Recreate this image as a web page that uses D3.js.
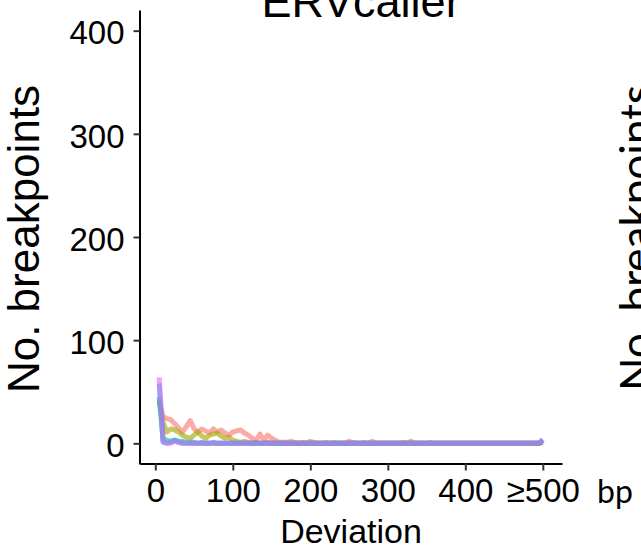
<!DOCTYPE html>
<html>
<head>
<meta charset="utf-8">
<script src="https://cdn.jsdelivr.net/npm/d3@7"></script>
<style>
  body { margin: 0; background: #fff; }
  svg { display: block; font-family: "Liberation Sans", Arial, sans-serif; }
</style>
</head>
<body>
<div id="chart"></div>
<script>
// deviation bins (bp), last bin is ">=500"
const deviation = [
  5, 10, 15, 20, 25, 30, 35, 40, 45, 50,
  55, 60, 65, 70, 75, 80, 85, 90, 95, 100,
  105, 110, 115, 120, 125, 130, 135, 140, 145, 150,
  155, 160, 165, 170, 175, 180, 185, 190, 195, 200,
  205, 210, 215, 220, 225, 230, 235, 240, 245, 250,
  255, 260, 265, 270, 275, 280, 285, 290, 295, 300,
  305, 310, 315, 320, 325, 330, 335, 340, 345, 350,
  355, 360, 365, 370, 375, 380, 385, 390, 395, 400,
  405, 410, 415, 420, 425, 430, 435, 440, 445, 450,
  455, 460, 465, 470, 475, 480, 485, 490, 495, 500
];

const series1 = [
  40, 26, 24, 23, 19, 15, 11, 16, 22, 14,
  11, 14, 12, 10, 14, 11, 13, 10, 8, 11,
  12, 13, 10, 8, 5, 3, 9, 3, 8, 5,
  3, 1, 1, 1, 2, 1, 0, 1, 0, 2,
  1, 0, 0, 1, 0, 1, 0, 0, 0, 2,
  1, 0, 0, 1, 0, 2, 0, 0, 0, 0,
  0, 0, 0, 1, 0, 2, 0, 0, 0, 0,
  1, 0, 0, 0, 0, 0, 0, 0, 0, 0,
  0, 0, 0, 0, 0, 0, 0, 0, 0, 0,
  0, 0, 0, 0, 0, 0, 0, 0, 0, 1
];
const series2 = [
  42, 20, 11, 14, 13, 11, 8, 6, 5, 8,
  11, 7, 5, 8, 9, 10, 7, 5, 6, 3,
  2, 1, 2, 1, 0, 1, 0, 0, 1, 0,
  0, 0, 0, 0, 0, 0, 0, 0, 0, 0,
  0, 0, 0, 0, 0, 0, 0, 0, 0, 0,
  0, 0, 0, 0, 0, 0, 0, 0, 0, 0,
  0, 0, 0, 0, 0, 0, 0, 0, 0, 0,
  0, 0, 0, 0, 0, 0, 0, 0, 0, 0,
  0, 0, 0, 0, 0, 0, 0, 0, 0, 0,
  0, 0, 0, 0, 0, 0, 0, 0, 0, 1
];
const series3 = [
  45, 4, 3, 2, 3, 2, 2, 1, 1, 1,
  0, 1, 0, 0, 1, 0, 0, 0, 0, 0,
  0, 0, 0, 0, 0, 0, 0, 0, 0, 0,
  0, 0, 0, 0, 0, 0, 0, 0, 0, 0,
  0, 0, 0, 0, 0, 0, 0, 0, 0, 0,
  0, 0, 0, 0, 0, 0, 0, 0, 0, 0,
  0, 0, 0, 0, 0, 0, 0, 0, 0, 0,
  0, 0, 0, 0, 0, 0, 0, 0, 0, 0,
  0, 0, 0, 0, 0, 0, 0, 0, 0, 0,
  0, 0, 0, 0, 0, 0, 0, 0, 0, 3
];
const series4 = [
  58, 1, 0, 1, 3, 1, 0, 0, 0, 0,
  0, 0, 0, 0, 0, 0, 0, 0, 0, 0,
  0, 0, 0, 0, 0, 0, 0, 0, 0, 0,
  0, 0, 0, 0, 0, 0, 0, 0, 0, 0,
  0, 0, 0, 0, 0, 0, 0, 0, 0, 0,
  0, 0, 0, 0, 0, 0, 0, 0, 0, 0,
  0, 0, 0, 0, 0, 0, 0, 0, 0, 0,
  0, 0, 0, 0, 0, 0, 0, 0, 0, 0,
  0, 0, 0, 0, 0, 0, 0, 0, 0, 0,
  0, 0, 0, 0, 0, 0, 0, 0, 0, 3
];
const series5 = [
  64, 2, 0, 0, 2, 1, 0, 0, 0, 0,
  0, 0, 0, 0, 0, 0, 0, 0, 0, 0,
  0, 0, 0, 0, 0, 0, 0, 0, 0, 0,
  0, 0, 0, 0, 0, 0, 0, 0, 0, 0,
  0, 0, 0, 0, 0, 0, 0, 0, 0, 0,
  0, 0, 0, 0, 0, 0, 0, 0, 0, 0,
  0, 0, 0, 0, 0, 0, 0, 0, 0, 0,
  0, 0, 0, 0, 0, 0, 0, 0, 0, 0,
  0, 0, 0, 0, 0, 0, 0, 0, 0, 0,
  0, 0, 0, 0, 0, 0, 0, 0, 0, 4
];

const colors = ["#F8766D", "#A3A500", "#00BF7D", "#00B0F6", "#E76BF3"];
const xTicks = [0, 100, 200, 300, 400, 500];
const yTicks = [0, 100, 200, 300, 400];

const width = 641;
const height = 549;

const svg = d3.select("#chart")
  .append("svg")
  .attr("width", width)
  .attr("height", height);

svg.append("rect").attr("width", width).attr("height", height).attr("fill", "#fff");

const x = d3.scaleLinear()
  .domain([-19.75, 524.75])
  .range([140, 562]);

const y = d3.scaleLinear()
  .domain([-20, 420])
  .range([464, 10]);

// lines
const allSeries = [series1, series2, series3, series4, series5];
const line = d3.line()
  .x((d, i) => x(deviation[i]))
  .y(d => y(d));

allSeries.forEach((s, k) => {
  svg.append("path")
    .datum(s)
    .attr("fill", "none")
    .attr("stroke", colors[k])
    .attr("stroke-opacity", 0.62)
    .attr("stroke-width", 5)
    .attr("stroke-linejoin", "round")
    .attr("d", line);
});

// axes
const gx = svg.append("g")
  .attr("transform", "translate(0,463.5)")
  .call(d3.axisBottom(x).tickValues(xTicks).tickSizeInner(7).tickSizeOuter(0).tickPadding(8)
    .tickFormat(d => d === 500 ? "≥500" : d));
gx.select(".domain").attr("stroke", "#000").attr("stroke-width", 2);
gx.selectAll(".tick line").attr("stroke", "#333").attr("stroke-width", 2);
gx.selectAll(".tick text")
  .attr("fill", "#000")
  .style("font-size", "33px")
  .style("font-family", "Liberation Sans, Arial, sans-serif");

const gy = svg.append("g")
  .attr("transform", "translate(139.5,0)")
  .call(d3.axisLeft(y).tickValues(yTicks).tickSizeInner(6).tickSizeOuter(0).tickPadding(9));
gy.select(".domain").attr("stroke", "#000").attr("stroke-width", 2);
gy.selectAll(".tick line").attr("stroke", "#333").attr("stroke-width", 2);
gy.selectAll(".tick text")
  .attr("fill", "#000")
  .attr("dy", "0.4em")
  .style("font-size", "33px")
  .style("font-family", "Liberation Sans, Arial, sans-serif");

// titles
svg.append("text")
  .attr("x", 361)
  .attr("y", 17)
  .attr("text-anchor", "middle")
  .style("font-size", "45px")
  .text("ERVcaller");

svg.append("text")
  .attr("transform", "rotate(-90)")
  .attr("x", -239)
  .attr("y", 39)
  .attr("text-anchor", "middle")
  .style("font-size", "44px")
  .text("No. breakpoints");

svg.append("text")
  .attr("x", 351)
  .attr("y", 543)
  .attr("text-anchor", "middle")
  .style("font-size", "34px")
  .text("Deviation");

svg.append("text")
  .attr("x", 597)
  .attr("y", 503)
  .style("font-family", "Lato, sans-serif")
  .style("font-size", "32px")
  .text("bp");

// neighbouring panel's label, cut by the edge
svg.append("text")
  .attr("transform", "rotate(-90)")
  .attr("x", -238)
  .attr("y", 652)
  .attr("text-anchor", "middle")
  .style("font-family", "Lato, sans-serif")
  .style("font-size", "44px")
  .text("No. breakpoints");
</script>
</body>
</html>
